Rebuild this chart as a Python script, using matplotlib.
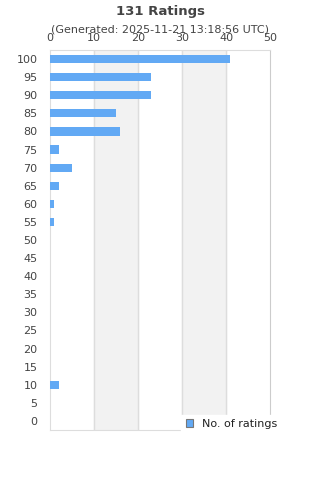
import matplotlib
matplotlib.use("Agg")
import matplotlib.pyplot as plt
import numpy as np
from matplotlib.patches import Patch

# rating buckets and counts
ratings = [100, 95, 90, 85, 80, 75, 70, 65, 60, 55, 50, 45, 40, 35, 30, 25, 20, 15, 10, 5, 0]
counts = [41, 23, 23, 15, 16, 2, 5, 2, 1, 1, 0, 0, 0, 0, 0, 0, 0, 0, 2, 0, 0]
x_ticks = [0, 10, 20, 30, 40, 50]

bar_color = "#62a9f4"
text_color = "#444444"
grid_color = "#dddddd"

fig = plt.figure(figsize=(3.2, 4.8), dpi=100)
ax = fig.add_axes([50 / 320, 1 - 430 / 480, 220 / 320, 380 / 480])

pos = np.arange(len(ratings))
ax.barh(pos, counts, height=0.45, color=bar_color, zorder=3)
ax.set_ylim(len(ratings) - 0.5, -0.5)
ax.set_xlim(0, 50)

# alternating shaded bands
for i in range(len(x_ticks) - 1):
    if i % 2 == 1:
        ax.axvspan(x_ticks[i], x_ticks[i + 1], color="#f2f2f2", zorder=0)
for x in x_ticks[1:-1]:
    ax.axvline(x, color=grid_color, lw=1, zorder=1)

ax.set_yticks(pos)
ax.set_yticklabels([str(r) for r in ratings])
ax.set_xticks(x_ticks)
ax.xaxis.tick_top()
ax.tick_params(axis="both", length=0, labelsize=8, colors=text_color)
ax.tick_params(axis="x", pad=5)
ax.tick_params(axis="y", pad=9)

for side in ["left", "top", "bottom"]:
    ax.spines[side].set_color(grid_color)
ax.spines["right"].set_color("#cccccc")

fig.text(0.5, 1 - 11 / 480, "131 Ratings", ha="center", va="center",
         fontsize=9.5, fontweight="bold", color=text_color)
fig.text(0.5, 1 - 30 / 480, "(Generated: 2025-11-21 13:18:56 UTC)",
         ha="center", va="center", fontsize=8, color=text_color)

handle = Patch(facecolor=bar_color, edgecolor="#777777", linewidth=0.8)
leg = ax.legend([handle], ["No. of ratings"], loc="lower right",
                bbox_to_anchor=(1.08, -0.024), fontsize=8, frameon=True,
                fancybox=False, framealpha=1, edgecolor="white",
                handlelength=0.7, handleheight=0.7, borderpad=0.4)
for t in leg.get_texts():
    t.set_color("#222222")
leg.set_zorder(5)

fig.savefig("out.png", dpi=100)
